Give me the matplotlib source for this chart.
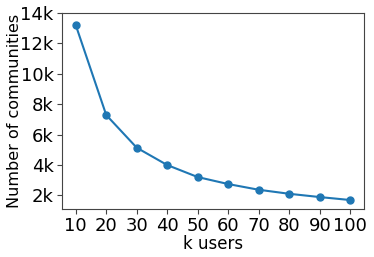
import matplotlib
matplotlib.use("Agg")
import matplotlib.pyplot as plt
from matplotlib.ticker import FuncFormatter

k_users = [10, 20, 30, 40, 50, 60, 70, 80, 90, 100]
n_communities = [13210, 7290, 5140, 4000, 3210, 2750, 2375, 2110, 1895, 1700]
y_ticks = [2000, 4000, 6000, 8000, 10000, 12000, 14000]

fig = plt.figure(figsize=(3.74, 2.57), dpi=100)
ax = fig.add_axes([62 / 374, 1 - 209 / 257, (364 - 62) / 374, (209 - 13) / 257])

ax.plot(k_users, n_communities, marker="o", color="#1f77b4", markersize=5, linewidth=1.5)

ax.set_xticks(k_users)
ax.set_yticks(y_ticks)
ax.set_ylim(1110, 14000)
ax.yaxis.set_major_formatter(FuncFormatter(lambda v, _: f"{int(v / 1000)}k"))
ax.tick_params(labelsize=13, color="#444444", pad=2.5)
for spine in ax.spines.values():
    spine.set_color("#444444")
ax.set_xlabel("k users", fontsize=12, labelpad=0)
ax.set_ylabel("Number of communities", fontsize=11.5, labelpad=-1)

fig.savefig("out.png", dpi=100)
